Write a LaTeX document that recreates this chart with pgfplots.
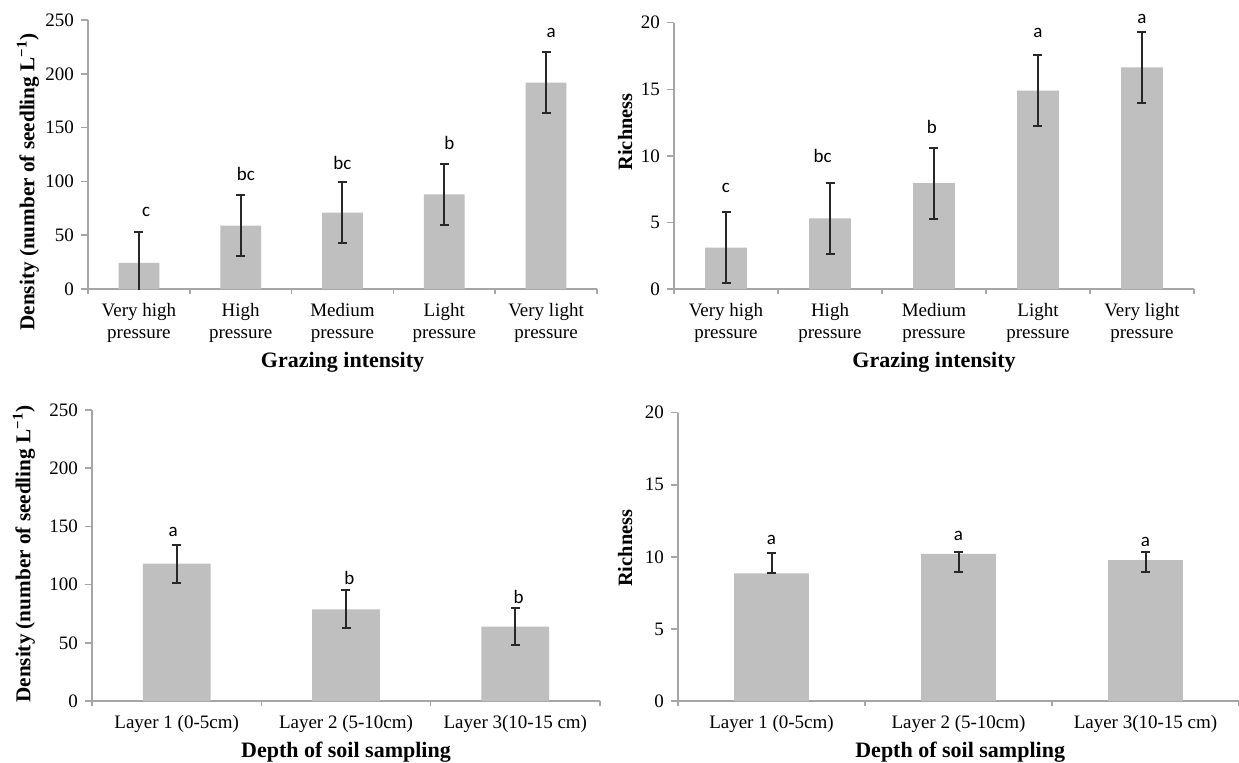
\documentclass[border=0pt]{standalone}
\usepackage{fontspec}
\setmainfont{Liberation Serif}
\newfontfamily\calfont{Carlito}
\usepackage{pgfplots}
\pgfplotsset{compat=1.18}
\definecolor{barfill}{RGB}{191,191,191}
\definecolor{axgray}{RGB}{166,166,166}
\definecolor{errc}{RGB}{40,40,40}
\tikzset{
  lbl/.style={font=\calfont\fontsize{9.5}{10}\selectfont, inner sep=0pt},
  dlab/.style={font=\bfseries\fontsize{10.6}{12}\selectfont},
  rlab/.style={font=\bfseries\fontsize{10.2}{12}\selectfont},
  xlab/.style={font=\bfseries\fontsize{11}{13}\selectfont},
}
\pgfplotsset{
  myax/.style={
    scale only axis,
    anchor=south west,
    axis lines*=left,
    axis line style={draw=axgray, line width=0.75pt},
    ymin=0,
    enlargelimits=false,
    major x tick style={draw=none},
    minor x tick style={draw=axgray, line width=0.75pt},
    ytick style={draw=axgray, line width=0.75pt},
    tick align=outside,
    major tick length=3.5pt,
    minor tick length=2.5pt,
    tick label style={font=\fontsize{9.5}{11}\selectfont},
    /pgf/number format/assume math mode=true,
    xticklabel style={align=center},
    clip mode=individual,
  },
  mybar/.style={
    ybar, bar width=0.4, fill=barfill, draw=none,
    error bars/.cd, y dir=both, y explicit,
    error bar style={errc, line width=1pt},
    error mark options={errc, rotate=90, mark size=2.25pt, line width=1pt},
  },
}
\begin{document}
\begin{tikzpicture}
\useasboundingbox (0,0) rectangle (619.5pt,-381pt);

% Top-left: density vs grazing
\begin{axis}[myax, at={(44pt,-144.5pt)}, width=254.5pt, height=134.5pt,
  xmin=0.5, xmax=5.5, ymax=250, ytick={0,50,...,250},
  xtick={1,2,3,4,5}, minor xtick={0.5,1.5,2.5,3.5,4.5,5.5},
  xticklabels={{Very high\\pressure},{High\\pressure},{Medium\\pressure},{Light\\pressure},{Very light\\pressure}},
  xlabel={Grazing intensity}, xlabel style={xlab, at={(axis description cs:0.5,-0.271)}, anchor=center},
  ylabel={Density (number of seedling L\textsuperscript{−1})}, ylabel style={dlab, at={(axis description cs:-0.118,0.398)}, anchor=center}]
\addplot[mybar] coordinates {
  (1,24.2) +- (0,28.4)
  (2,59.0) +- (0,28.4)
  (3,71.0) +- (0,28.2)
  (4,88.0) +- (0,28.2)
  (5,191.7) +- (0,28.3)
};
\node[lbl] at (axis cs:1.07,72) {c};
\node[lbl] at (axis cs:2.05,107) {bc};
\node[lbl] at (axis cs:3.0,117) {bc};
\node[lbl] at (axis cs:4.05,136) {b};
\node[lbl] at (axis cs:5.05,238) {a};
\end{axis}

% Top-right: richness vs grazing
\begin{axis}[myax, at={(337pt,-144.5pt)}, width=260pt, height=133.15pt,
  xmin=0.5, xmax=5.5, ymax=20, ytick={0,5,...,20},
  xtick={1,2,3,4,5}, minor xtick={0.5,1.5,2.5,3.5,4.5,5.5},
  xticklabels={{Very high\\pressure},{High\\pressure},{Medium\\pressure},{Light\\pressure},{Very light\\pressure}},
  xlabel={Grazing intensity}, xlabel style={xlab, at={(axis description cs:0.5,-0.274)}, anchor=center},
  ylabel={Richness}, ylabel style={rlab, at={(axis description cs:-0.094,0.59)}, anchor=center}]
\addplot[mybar] coordinates {
  (1,3.10) +- (0,2.65)
  (2,5.30) +- (0,2.67)
  (3,7.95) +- (0,2.67)
  (4,14.90) +- (0,2.67)
  (5,16.65) +- (0,2.68)
};
\node[lbl] at (axis cs:1.0,7.6) {c};
\node[lbl] at (axis cs:1.93,9.97) {bc};
\node[lbl] at (axis cs:2.98,12.18) {b};
\node[lbl] at (axis cs:4.0,19.25) {a};
\node[lbl] at (axis cs:5.0,20.3) {a};
\end{axis}

% Bottom-left: density vs depth
\begin{axis}[myax, at={(46pt,-350.5pt)}, width=254pt, height=145.5pt,
  xmin=0.5, xmax=3.5, ymax=250, ytick={0,50,...,250},
  xtick={1,2,3}, minor xtick={0.5,1.5,2.5,3.5},
  xticklabels={{Layer 1 (0-5cm)},{Layer 2 (5-10cm)},{Layer 3(10-15 cm)}},
  xlabel={Depth of soil sampling}, xlabel style={xlab, at={(axis description cs:0.5,-0.175)}, anchor=center},
  ylabel={Density (number of seedling L\textsuperscript{−1})}, ylabel style={dlab, at={(axis description cs:-0.134,0.505)}, anchor=center}]
\addplot[mybar] coordinates {
  (1,118.0) +- (0,16.3)
  (2,78.8) +- (0,16.2)
  (3,64.0) +- (0,16.3)
};
\node[lbl] at (axis cs:0.98,145) {a};
\node[lbl] at (axis cs:2.02,105.4) {b};
\node[lbl] at (axis cs:3.02,89) {b};
\end{axis}

% Bottom-right: richness vs depth
\begin{axis}[myax, at={(339pt,-350.5pt)}, width=280.5pt, height=144.15pt,
  xmin=0.5, xmax=3.5, ymax=20, ytick={0,5,...,20},
  xtick={1,2,3}, minor xtick={0.5,1.5,2.5,3.5},
  xticklabels={{Layer 1 (0-5cm)},{Layer 2 (5-10cm)},{Layer 3(10-15 cm)}},
  xlabel={Depth of soil sampling}, xlabel style={xlab, at={(axis description cs:0.503,-0.177)}, anchor=center},
  ylabel={Richness}, ylabel style={rlab, at={(axis description cs:-0.094,0.53)}, anchor=center}]
\addplot[mybar] coordinates {
  (1,8.85) += (0,1.45) -= (0,0)
  (2,10.20) += (0,0.11) -= (0,1.28)
  (3,9.78) += (0,0.53) -= (0,0.86)
};
\node[lbl] at (axis cs:1.0,11.2) {a};
\node[lbl] at (axis cs:2.0,11.46) {a};
\node[lbl] at (axis cs:3.0,11.05) {a};
\end{axis}
\end{tikzpicture}
\end{document}
